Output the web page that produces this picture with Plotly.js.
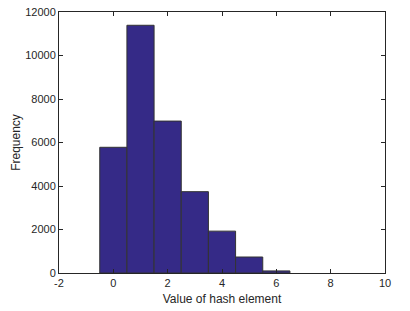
<!DOCTYPE html>
<html>
<head>
<meta charset="utf-8">
<script src="https://cdn.plot.ly/plotly-3.0.1.min.js"></script>
<style>html,body{margin:0;padding:0;background:#fff;}#chart{width:410px;height:311px;}</style>
</head>
<body>
<div id="chart"></div>
<script>
var binCenters = [0, 1, 2, 3, 4, 5, 6];
var counts = [5780, 11390, 6985, 3740, 1925, 735, 95];
var xTicks = [-2, 0, 2, 4, 6, 8, 10];
var yTicks = [0, 2000, 4000, 6000, 8000, 10000, 12000];

var trace = {
  type: 'bar',
  x: binCenters,
  y: counts,
  width: 1,
  marker: {color: '#352a87', line: {color: '#333333', width: 1}},
  hoverinfo: 'x+y'
};

var fontFam = 'Liberation Sans, Arial, sans-serif';
var axisCommon = {
  showgrid: false,
  zeroline: false,
  showline: true,
  linecolor: '#262626',
  linewidth: 1,
  mirror: 'ticks',
  ticks: 'inside',
  ticklen: 4,
  tickwidth: 1,
  tickcolor: '#262626',
  tickfont: {family: fontFam, size: 11, color: '#262626'}
};

var layout = {
  width: 410,
  height: 311,
  margin: {l: 59, r: 25, t: 12, b: 38},
  paper_bgcolor: '#ffffff',
  plot_bgcolor: '#ffffff',
  showlegend: false,
  bargap: 0,
  xaxis: Object.assign({}, axisCommon, {
    range: [-2, 10],
    tickvals: xTicks,
    ticktext: xTicks.map(String),
    title: {text: 'Value of hash element', font: {family: fontFam, size: 12, color: '#262626'}, standoff: 6}
  }),
  yaxis: Object.assign({}, axisCommon, {
    range: [0, 12000],
    tickvals: yTicks,
    ticktext: yTicks.map(String),
    title: {text: 'Frequency', font: {family: fontFam, size: 12, color: '#262626'}, standoff: 2}
  })
};

Plotly.newPlot('chart', [trace], layout, {displayModeBar: false, staticPlot: true});
</script>
</body>
</html>
